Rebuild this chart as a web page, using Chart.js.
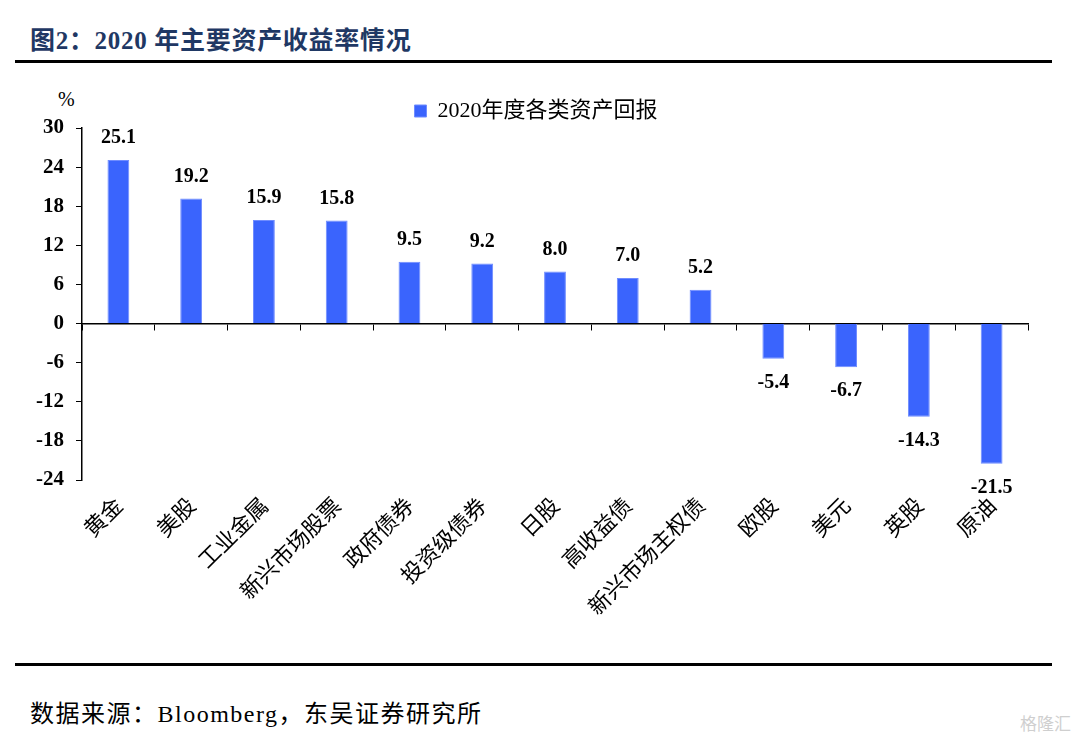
<!DOCTYPE html>
<html>
<head>
<meta charset="utf-8">
<script src="https://cdn.jsdelivr.net/npm/chart.js@4/dist/chart.umd.min.js"></script>
<style>
    body { margin: 0; width: 1080px; height: 742px; background: #fff; position: relative; overflow: hidden; }
    #title { position: absolute; left: 30px; top: 20px; font: bold 25px 'Liberation Serif', 'Noto Sans CJK SC'; letter-spacing: 0.7px; color: #1f3864; }
    .rule { position: absolute; left: 15px; width: 1037px; height: 3px; background: #000; }
    #unit { position: absolute; left: 58px; top: 88px; font: 20px 'Liberation Serif'; color: #000; }
    #source { position: absolute; left: 30px; top: 694px; font: 24px 'Liberation Serif', 'Noto Sans CJK SC'; letter-spacing: 1.5px; color: #000; }
    #mark { position: absolute; left: 1020px; top: 710px; font: 17px 'Noto Sans CJK SC'; color: #cfcfcf; }
    #wrap { position: absolute; left: 0; top: 70px; width: 1072px; height: 580px; }
</style>
</head>
<body>
<div id="title">图2：2020 年主要资产收益率情况</div>
<div class="rule" style="top:60px"></div>
<div id="unit">%</div>
<div id="wrap"><canvas id="myChart"></canvas></div>
<div class="rule" style="top:663px"></div>
<div id="source">数据来源：Bloomberg，东吴证券研究所</div>
<div id="mark">格隆汇</div>
<script>
const assets = ['黄金', '美股', '工业金属', '新兴市场股票', '政府债券', '投资级债券', '日股', '高收益债', '新兴市场主权债', '欧股', '美元', '英股', '原油'];
const returns2020 = [25.1, 19.2, 15.9, 15.8, 9.5, 9.2, 8.0, 7.0, 5.2, -5.4, -6.7, -14.3, -21.5];
const seriesName = '2020年度各类资产回报';
const yTicks = [-24, -18, -12, -6, 0, 6, 12, 18, 24, 30];

const serif = "'Liberation Serif', 'Noto Sans CJK SC'";
const cjk = "'Noto Sans CJK SC'";

// value labels above / below each bar
const valueLabels = {
    id: 'valueLabels',
    afterDatasetsDraw(chart) {
        const c = chart.ctx;
        const meta = chart.getDatasetMeta(0);
        c.save();
        c.font = 'bold 20px ' + serif;
        c.fillStyle = '#000';
        c.textAlign = 'center';
        c.textBaseline = 'middle';
        meta.data.forEach((bar, i) => {
            const v = returns2020[i];
            const y = v >= 0 ? bar.y - 22 : bar.y + 24;
            c.fillText(v.toFixed(1), bar.x, y);
        });
        c.restore();
    },
};

// fixed legend height, and nudge it right a little
const legendPlace = {
    id: 'legendPlace',
    beforeInit(chart) {
        const fit = chart.legend.fit;
        chart.legend.fit = function () {
            fit.bind(chart.legend)();
            this.height = 38;
        };
    },
    afterLayout(chart) {
        chart.legend.left += 44;
    },
};

let ctx = document.getElementById('myChart').getContext('2d');

new Chart(ctx, {
    type: 'bar',
    data: {
        labels: assets,
        datasets: [
            {
                label: seriesName,
                data: returns2020,
                backgroundColor: '#3a64fd',
                borderColor: '#6f8cff',
                borderWidth: 1,
                barPercentage: 0.3,
                categoryPercentage: 1,
                xAxisID: 'x',
            },
        ],
    },
    options: {
        responsive: true,
        maintainAspectRatio: false,
        animation: false,
        layout: { padding: { top: 20, left: 0, right: 44, bottom: 0 } },
        plugins: {
            tooltip: { enabled: false },
            legend: {
                position: 'top',
                labels: {
                    boxWidth: 12,
                    boxHeight: 12,
                    padding: 10,
                    color: '#000',
                    font: { size: 22, family: serif },
                },
            },
        },
        scales: {
            x: {
                position: 'bottom',
                border: { display: false },
                grid: { display: false },
                ticks: {
                    minRotation: 45,
                    maxRotation: 45,
                    padding: 4,
                    color: '#000',
                    font: { size: 22, family: cjk },
                },
                afterFit(scale) { scale.height = 170; },
            },
            x0: {
                type: 'category',
                labels: assets,
                position: { y: 0 },
                border: { display: true, color: '#000', width: 1.5 },
                grid: { drawOnChartArea: false, drawTicks: true, tickLength: 6, color: '#000', offset: true },
                ticks: { display: false },
            },
            y: {
                min: -24,
                max: 30,
                border: { display: true, color: '#000', width: 1.5 },
                grid: { drawOnChartArea: false, tickLength: 6, color: '#000' },
                afterBuildTicks(scale) { scale.ticks = yTicks.map(v => ({ value: v })); },
                ticks: {
                    padding: 12,
                    color: '#000',
                    font: { size: 21, weight: 'bold', family: serif },
                },
                afterFit(scale) { scale.width = 82; },
            },
        },
    },
    plugins: [valueLabels, legendPlace],
});
</script>
</body>
</html>
